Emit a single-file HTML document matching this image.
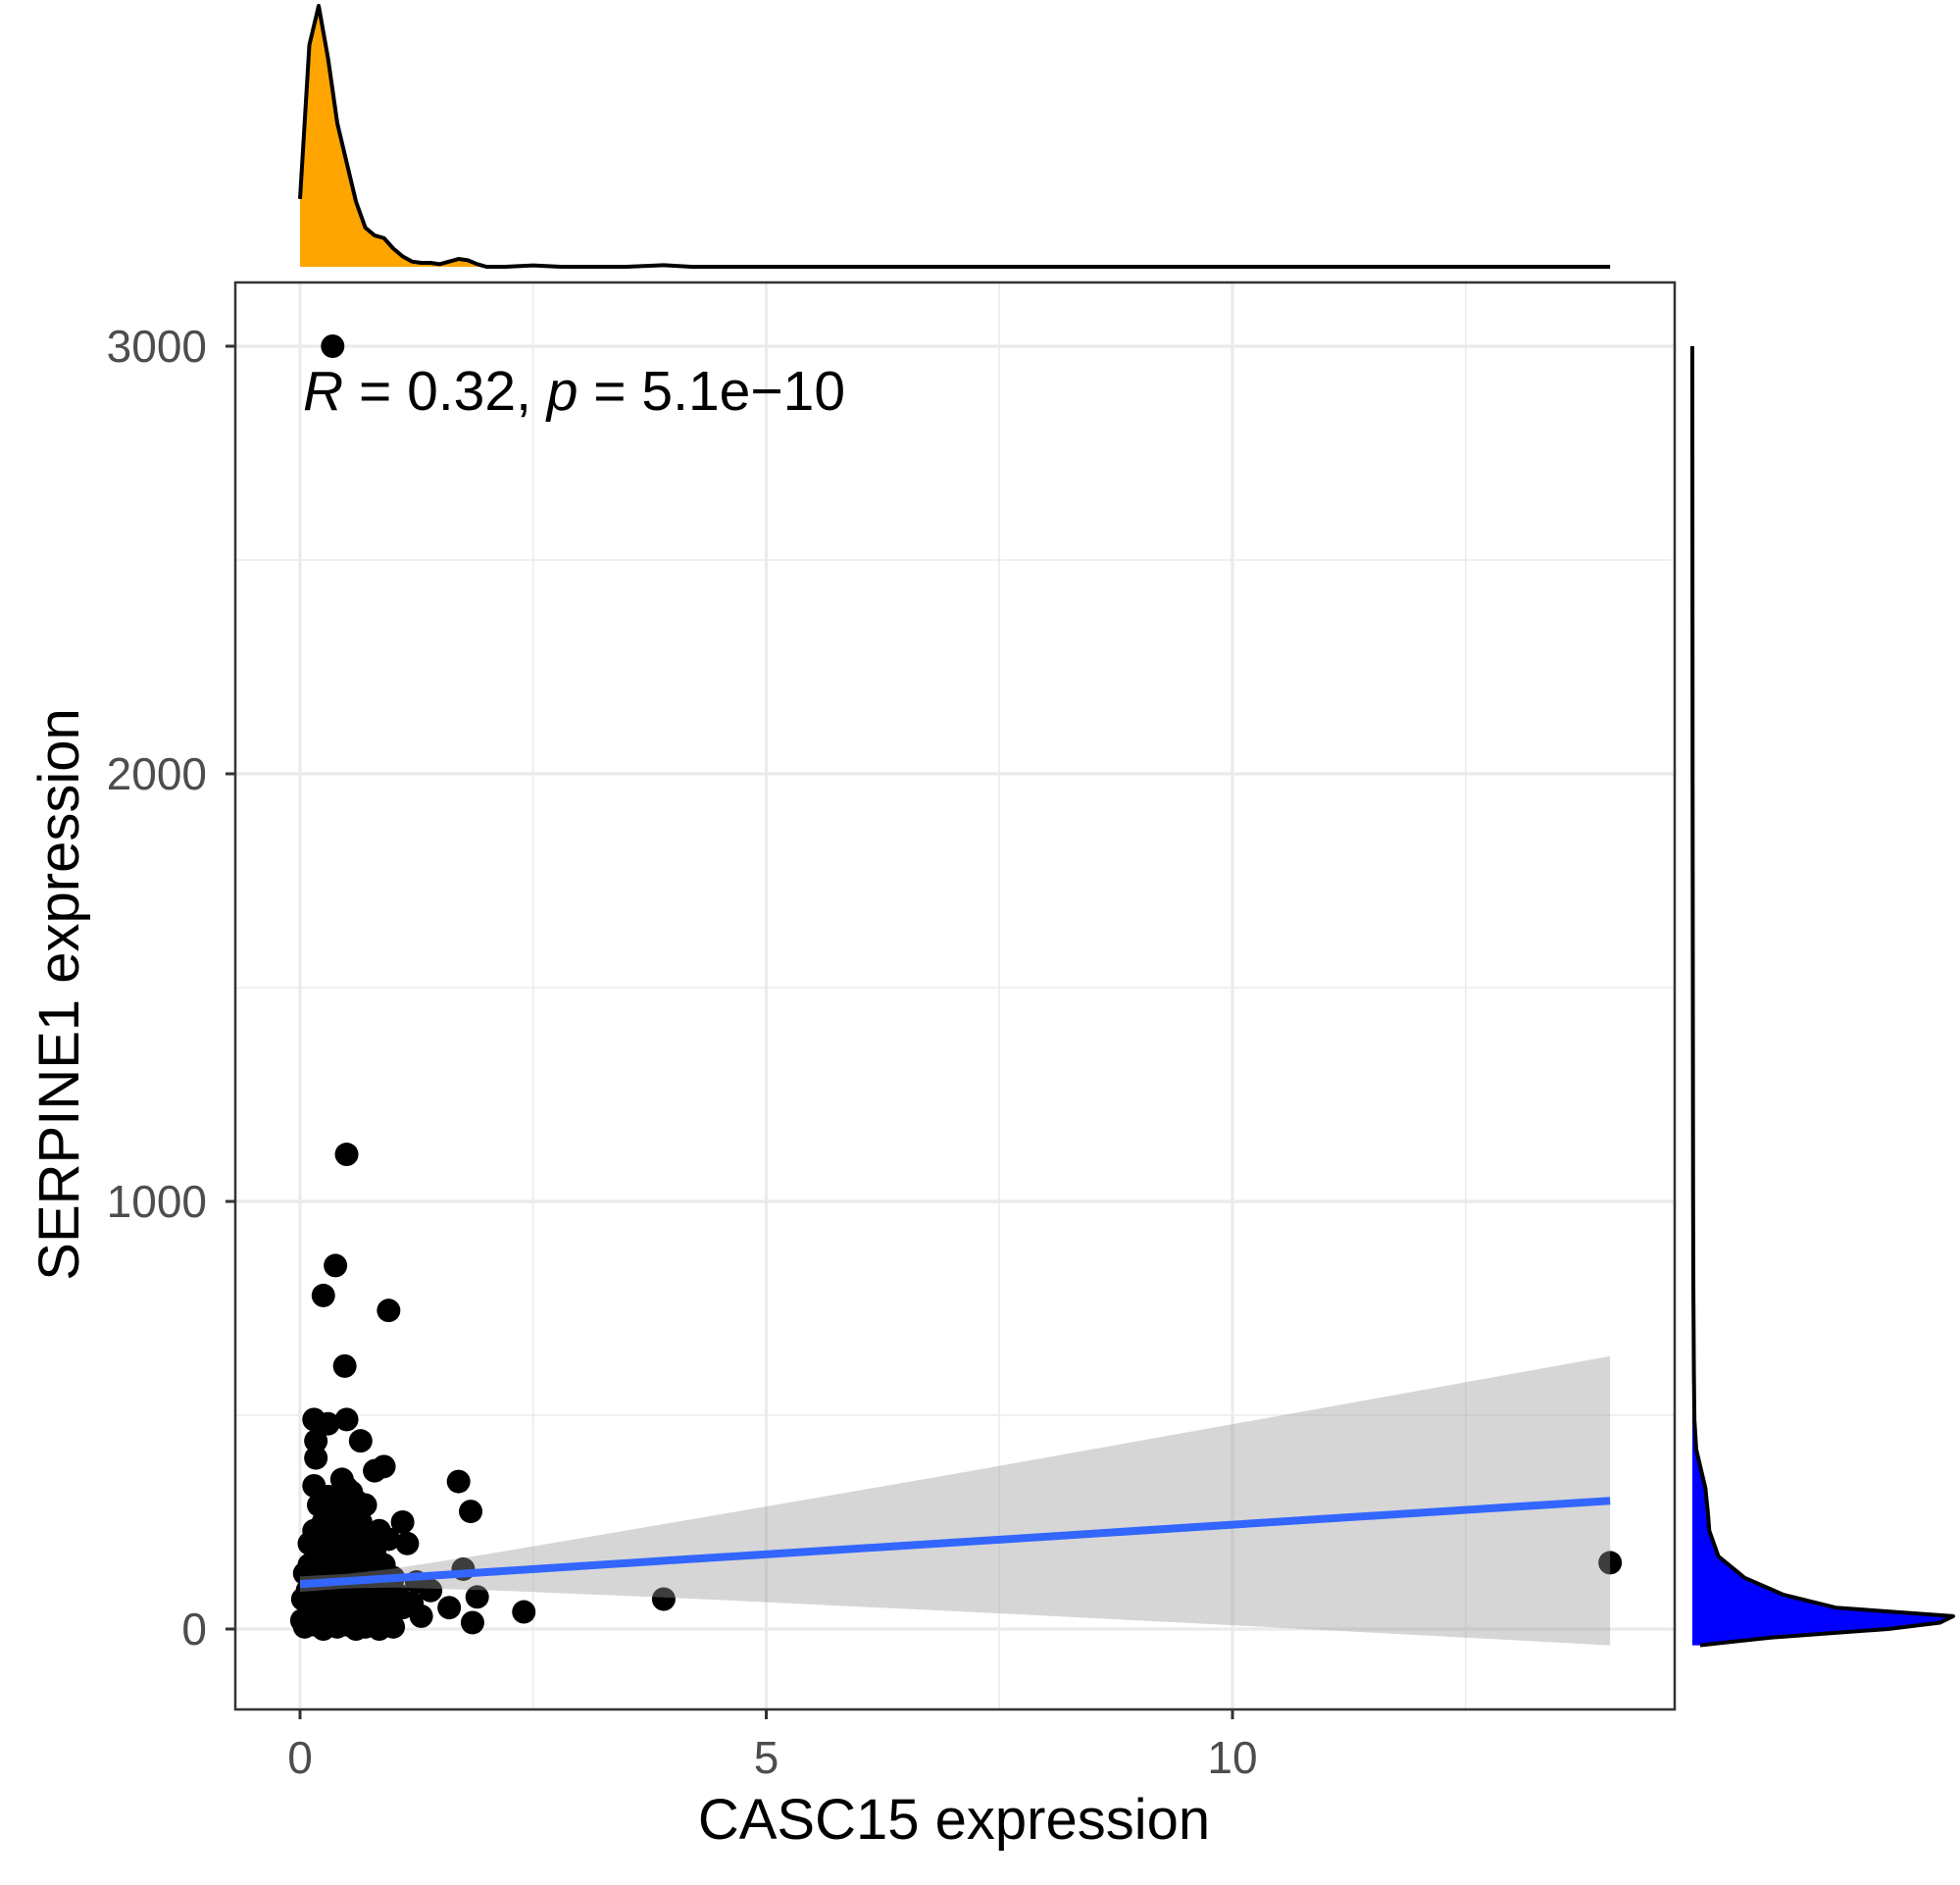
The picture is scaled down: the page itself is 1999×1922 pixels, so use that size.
<!DOCTYPE html>
<html><head><meta charset="utf-8"><style>
html,body{margin:0;padding:0;background:#fff;}
svg{display:block;font-family:"Liberation Sans",Arial,sans-serif;}
</style></head><body>
<svg id="chart" width="1999" height="1922" viewBox="0 0 1999 1922" xmlns="http://www.w3.org/2000/svg">
<g id="grid"></g>
<g id="points"></g>
<g id="fit"></g>
<g id="axes"></g>
<g id="dens"></g>
<text x="309" y="418" font-size="57" fill="#000"><tspan font-style="italic">R</tspan> = 0.32, <tspan font-style="italic">p</tspan> = 5.1e−10</text>
<text x="973" y="1875" font-size="58" text-anchor="middle" fill="#000">CASC15 expression</text>
<text transform="translate(80,1014) rotate(-90)" font-size="58" text-anchor="middle" fill="#000">SERPINE1 expression</text>
</svg>
<script>
const xVals=[0.02,0.05,0.1,0.15,0.2,0.25,0.3,0.35,0.4,0.45,0.5,0.55,0.6,0.65,0.7,0.75,0.8,0.85,0.9,0.95,1.0,
0.03,0.08,0.12,0.18,0.22,0.28,0.33,0.38,0.42,0.48,0.52,0.58,0.62,0.68,0.72,0.78,0.82,0.88,0.92,0.98,1.05,1.1,
0.05,0.1,0.15,0.2,0.25,0.3,0.35,0.4,0.45,0.5,0.55,0.6,0.65,0.7,0.75,0.8,0.85,0.9,1.0,
0.1,0.15,0.2,0.25,0.3,0.35,0.4,0.45,0.5,0.55,0.6,0.65,0.7,0.75,0.85,0.95,1.1,1.15,
0.2,0.3,0.4,0.5,0.6,0.7,0.15,0.45,0.55,
0.17,0.17,0.15,0.3,0.5,0.65,0.9,0.8,0.48,0.95,0.25,0.38,0.5,0.35,
1.3,1.6,1.75,1.9,1.85,1.7,1.83,2.4,3.9,14.05,1.4,1.25,1.2];
const yVals=[20,5,40,10,30,0,15,45,5,25,10,35,0,20,5,30,10,0,40,20,5,
70,90,60,80,100,70,95,60,85,110,70,90,60,100,75,55,90,70,110,60,80,50,
130,150,120,170,140,160,130,180,150,130,170,140,160,125,150,180,130,150,120,
200,230,210,250,220,270,240,210,260,230,200,250,220,200,230,210,250,200,
290,310,290,330,300,290,335,350,320,
440,400,490,480,490,440,380,370,615,745,780,850,1110,3000,
30,50,140,75,15,345,275,40,70,155,90,110,60];
const fitX=[0,0.5,1,2,4,7,10,14.05];
const fitY=[105,112,119,133,161,202,244,300];
const fitLo=[87,95,97,91,73,42,9,-38];
const fitHi=[123,129,141,175,249,362,479,638];
const topDX=[0,0.1,0.2,0.3,0.4,0.5,0.6,0.7,0.8,0.9,1.0,1.1,1.2,1.3,1.4,1.5,1.6,1.7,1.8,1.9,2.0,2.2,2.5,2.8,3.5,3.9,4.2,6,10,14.05];
const topDY=[0.26,0.85,1.0,0.8,0.55,0.4,0.25,0.15,0.12,0.11,0.07,0.04,0.02,0.015,0.015,0.01,0.02,0.03,0.025,0.01,0,0,0.005,0,0,0.006,0,0,0,0];
const rightDY=[-38,-20,0,15,30,50,80,120,170,230,270,330,420,490,600,800,1000,1500,2000,2500,3000];
const rightDW=[0.03,0.3,0.75,0.95,1.0,0.55,0.35,0.2,0.1,0.065,0.06,0.05,0.015,0.008,0.006,0.004,0.003,0.002,0.001,0.0005,0];
const xTicks=[0,5,10];
const yTicks=[0,1000,2000,3000];

const NS="http://www.w3.org/2000/svg";
const L=240,T=288,R=1708,B=1743;
const sx=v=>306+v*95.1;
const sy=v=>1661-v*0.436;
function mk(p,tag,a){const e=document.createElementNS(NS,tag);for(const k in a)e.setAttribute(k,a[k]);p.appendChild(e);return e;}
const grid=document.getElementById('grid');
const bg=mk(grid,'rect',{x:L,y:T,width:R-L,height:B-T,fill:'#fff'});


[2.5,7.5,12.5].forEach(v=>{const l=mk(grid,'line',{x1:sx(v),x2:sx(v),y1:T,y2:B,stroke:'#EBEBEB','stroke-width':1.6});

});
[500,1500,2500].forEach(v=>{const l=mk(grid,'line',{x1:L,x2:R,y1:sy(v),y2:sy(v),stroke:'#EBEBEB','stroke-width':1.6});

});
xTicks.forEach(v=>{const l=mk(grid,'line',{x1:sx(v),x2:sx(v),y1:T,y2:B,stroke:'#EBEBEB','stroke-width':3.2});

});
yTicks.forEach(v=>{const l=mk(grid,'line',{x1:L,x2:R,y1:sy(v),y2:sy(v),stroke:'#EBEBEB','stroke-width':3.2});

});

const pts=document.getElementById('points');
xVals.forEach((x,i)=>{const c=mk(pts,'circle',{cx:sx(x),cy:sy(yVals[i]),r:12,fill:'#000'});

});

const fit=document.getElementById('fit');
let rib='M'+fitX.map((x,i)=>sx(x)+','+sy(fitHi[i])).join(' L')+' L'+fitX.slice().reverse().map((x,j)=>sx(x)+','+sy(fitLo[fitX.length-1-j])).join(' L')+' Z';
const rb=mk(fit,'path',{d:rib,fill:'rgba(153,153,153,0.4)'});


const fl=mk(fit,'polyline',{points:fitX.map((x,i)=>sx(x)+','+sy(fitY[i])).join(' '),fill:'none',stroke:'#3366FF','stroke-width':8});



const ax=document.getElementById('axes');
const bd=mk(ax,'rect',{x:L,y:T,width:R-L,height:B-T,fill:'none',stroke:'#333','stroke-width':2.5});


xTicks.forEach(v=>{mk(ax,'line',{x1:sx(v),x2:sx(v),y1:B,y2:B+10,stroke:'#333','stroke-width':3});
const t=mk(ax,'text',{x:sx(v),y:1808,'font-size':46,'text-anchor':'middle',fill:'#4D4D4D'});t.textContent=v;

});
yTicks.forEach(v=>{mk(ax,'line',{x1:L-10,x2:L,y1:sy(v),y2:sy(v),stroke:'#333','stroke-width':3});
const t=mk(ax,'text',{x:211,y:sy(v)+16,'font-size':46,'text-anchor':'end',fill:'#4D4D4D'});t.textContent=v;

});

const dens=document.getElementById('dens');
const tb=272,th=266;
const tpts=topDX.map((x,i)=>sx(x)+','+(tb-topDY[i]*th));
const tf=mk(dens,'path',{d:'M'+sx(0)+','+tb+' L'+tpts.join(' L')+' L'+sx(14.05)+','+tb+' Z',fill:'#FFA500'});


const tl=mk(dens,'polyline',{points:tpts.join(' '),fill:'none',stroke:'#000','stroke-width':4,'stroke-linejoin':'round'});


const rx=1726,rw=266;
const rpts=rightDY.map((y,i)=>(rx+rightDW[i]*rw)+','+sy(y));
const rf=mk(dens,'path',{d:'M'+rx+','+sy(-38)+' L'+rpts.join(' L')+' L'+rx+','+sy(3000)+' Z',fill:'#0000FF'});


const rl=mk(dens,'polyline',{points:rpts.join(' '),fill:'none',stroke:'#000','stroke-width':4,'stroke-linejoin':'round'});


</script>
</body></html>
